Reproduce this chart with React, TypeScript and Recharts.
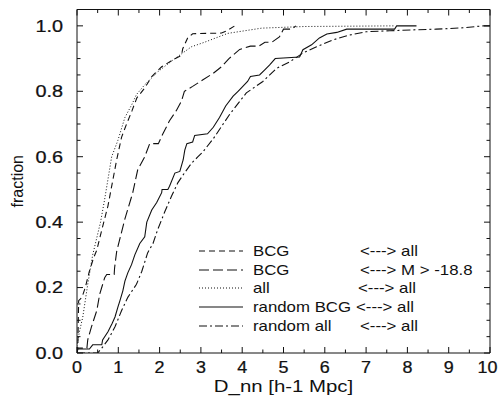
import React from 'react';
import { LineChart, Line, XAxis, YAxis, Legend, Label } from 'recharts';

// cumulative fraction vs nearest-neighbour distance D_nn [h-1 Mpc]
const bcgAll: [number, number][] = [
  [0, 0], [0.02, 0.02], [0.04, 0.16], [0.12, 0.17], [0.2, 0.2], [0.3, 0.25], [0.4, 0.29],
  [0.48, 0.315], [0.6, 0.376], [0.75, 0.45], [0.87, 0.53], [0.96, 0.59], [1.08, 0.66],
  [1.2, 0.7], [1.33, 0.74], [1.45, 0.78], [1.64, 0.81], [1.81, 0.845], [2.05, 0.875],
  [2.32, 0.896], [2.53, 0.91], [2.56, 0.93], [2.68, 0.963], [2.8, 0.976], [3.5, 0.978],
  [3.63, 0.985], [3.82, 1.0],
];

const bcgFaint: [number, number][] = [
  [0, 0], [0.02, 0.015], [0.24, 0.015], [0.26, 0.04], [0.35, 0.08], [0.48, 0.13],
  [0.55, 0.18], [0.67, 0.23], [0.72, 0.24], [0.9, 0.24], [0.91, 0.26], [0.96, 0.31],
  [1.16, 0.41], [1.35, 0.49], [1.47, 0.56], [1.64, 0.6], [1.76, 0.64], [1.97, 0.64],
  [2.08, 0.67], [2.24, 0.71], [2.4, 0.74], [2.53, 0.77], [2.6, 0.8], [2.8, 0.815],
  [3.05, 0.835], [3.3, 0.855], [3.5, 0.875], [3.68, 0.9], [3.94, 0.928], [4.2, 0.938],
  [4.4, 0.938], [4.55, 0.95], [4.72, 0.95], [4.9, 0.966], [5.0, 0.99], [5.2, 0.99],
  [5.3, 1.0],
];

const allAll: [number, number][] = [
  [0, 0.02], [0.05, 0.06], [0.14, 0.11], [0.26, 0.21], [0.38, 0.3], [0.57, 0.4],
  [0.67, 0.47], [0.84, 0.6], [0.99, 0.65], [1.16, 0.72], [1.33, 0.76], [1.44, 0.79],
  [1.64, 0.82], [1.96, 0.86], [2.37, 0.9], [2.77, 0.936], [3.09, 0.95], [3.65, 0.977],
  [4.47, 0.993], [5.5, 0.998], [7.7, 1.0],
];

const randomBcg: [number, number][] = [
  [0, 0], [0.02, 0.012], [0.3, 0.012], [0.38, 0.025], [0.6, 0.025], [0.62, 0.04],
  [0.75, 0.065], [0.85, 0.09], [0.92, 0.11], [0.99, 0.14], [1.04, 0.16], [1.11, 0.19],
  [1.16, 0.22], [1.23, 0.245], [1.32, 0.27], [1.4, 0.3], [1.52, 0.335], [1.64, 0.355],
  [1.69, 0.4], [1.81, 0.437], [1.93, 0.46], [2.05, 0.49], [2.06, 0.5], [2.2, 0.5],
  [2.24, 0.51], [2.37, 0.55], [2.49, 0.555], [2.57, 0.59], [2.61, 0.62], [2.66, 0.64],
  [2.8, 0.645], [2.85, 0.665], [3.16, 0.67], [3.3, 0.69], [3.45, 0.72], [3.6, 0.755],
  [3.78, 0.785], [3.9, 0.8], [4.13, 0.83], [4.2, 0.845], [4.42, 0.85], [4.54, 0.865],
  [4.66, 0.88], [4.8, 0.9], [5.39, 0.905], [5.47, 0.927], [5.68, 0.942], [5.87, 0.963],
  [6.05, 0.975], [6.29, 0.98], [6.53, 0.99], [7.69, 0.99], [7.74, 1.0], [8.22, 1.0],
];

const randomAll: [number, number][] = [
  [0, 0], [0.5, 0], [0.6, 0.015], [0.75, 0.04], [0.92, 0.08], [1.08, 0.13], [1.23, 0.17],
  [1.44, 0.21], [1.57, 0.25], [1.71, 0.306], [1.84, 0.335], [1.95, 0.376], [2.12, 0.43],
  [2.29, 0.48], [2.44, 0.52], [2.6, 0.55], [2.77, 0.58], [2.93, 0.6], [3.05, 0.615],
  [3.3, 0.655], [3.7, 0.73], [4.1, 0.795], [4.5, 0.83], [4.83, 0.87], [5.15, 0.89],
  [5.47, 0.917], [5.8, 0.936], [6.19, 0.957], [6.6, 0.972], [7.0, 0.982], [7.57, 0.985],
  [8.2, 0.988], [8.7, 0.99], [9.35, 0.994], [9.83, 1.0], [10, 1.0],
];

const xMajor = [0, 1, 2, 3, 4, 5, 6, 7, 8, 9, 10];
const xMinor = [0.5, 1.5, 2.5, 3.5, 4.5, 5.5, 6.5, 7.5, 8.5, 9.5];
const yMajor = [0, 0.2, 0.4, 0.6, 0.8, 1.0];
const yMinor = [0.05, 0.1, 0.15, 0.25, 0.3, 0.35, 0.45, 0.5, 0.55, 0.65, 0.7, 0.75, 0.85, 0.9, 0.95];

const legendNames = ['BCG', 'BCG', 'all', 'random BCG', 'random all'];
const legendPartners = ['<---> all', '<---> M > -18.8', '<---> all', '<---> all', '<---> all'];

const FONT = '"Liberation Sans", Arial, Helvetica, sans-serif';
const INK = '#111';

const series = [
  { key: 'bcgAll', pts: bcgAll, dash: '6 4' },
  { key: 'bcgFaint', pts: bcgFaint, dash: '10 4' },
  { key: 'allAll', pts: allAll, dash: '1 2' },
  { key: 'randomBcg', pts: randomBcg, dash: undefined },
  { key: 'randomAll', pts: randomAll, dash: '8 3 2 3' },
];

const xTicks = [...xMajor, ...xMinor].sort((a, b) => a - b);
const yTicks = [...yMajor, ...yMinor].sort((a, b) => a - b);
const isMajor = (list: number[], v: number) => list.some((m) => Math.abs(m - v) < 1e-9);

// ticks point into the frame, labels sit outside
const BottomTick = (props: any) => {
  const { x, y, payload } = props;
  const major = isMajor(xMajor, payload.value);
  // the last label would hang over the right edge, nudge it in a little
  const nudge = payload.value >= 10 ? -2.5 : 0;
  return (
    <g>
      <line x1={x} x2={x} y1={y} y2={y - (major ? 6 : 3.5)} stroke={INK} />
      {major && (
        <g transform={`translate(${x + nudge},${y + 20}) scale(1.12,1)`}>
          <text textAnchor="middle" fontSize={16} fontFamily={FONT} fill={INK} stroke={INK} strokeWidth={0.25}>
            {payload.value}
          </text>
        </g>
      )}
    </g>
  );
};

const TopTick = (props: any) => {
  const { x, y, payload } = props;
  const major = isMajor(xMajor, payload.value);
  return <line x1={x} x2={x} y1={y} y2={y + (major ? 6 : 3.5)} stroke={INK} />;
};

const LeftTick = (props: any) => {
  const { x, y, payload } = props;
  const major = isMajor(yMajor, payload.value);
  return (
    <g>
      <line x1={x} x2={x + (major ? 6 : 3.5)} y1={y} y2={y} stroke={INK} />
      {major && (
        <g transform={`translate(${x - 14},${y + 5.8}) scale(1.24,1)`}>
          <text textAnchor="end" fontSize={16} fontFamily={FONT} fill={INK} stroke={INK} strokeWidth={0.25}>
            {payload.value.toFixed(1)}
          </text>
        </g>
      )}
    </g>
  );
};

const RightTick = (props: any) => {
  const { x, y, payload } = props;
  const major = isMajor(yMajor, payload.value);
  return <line x1={x} x2={x - (major ? 6 : 3.5)} y1={y} y2={y} stroke={INK} />;
};

const XTitle = (props: any) => {
  const { x, y, width } = props.viewBox;
  return (
    <g transform={`translate(${x + width / 2},${y + 39}) scale(1.2,1)`}>
      <text textAnchor="middle" fontSize={17} fontFamily={FONT} fill={INK}>
        D_nn [h-1 Mpc]
      </text>
    </g>
  );
};

const YTitle = (props: any) => {
  const { x, y, height } = props.viewBox;
  return (
    <text
      transform={`translate(${x + 23},${y + height / 2}) rotate(-90)`}
      textAnchor="middle"
      fontSize={16}
      fontFamily={FONT}
      fill={INK}
    >
      fraction
    </text>
  );
};

const partnerLeft = [161, 161, 159, 157, 161];

const LegendBox = () => (
  <div style={{ position: 'relative', width: 300, height: 100, fontFamily: FONT, fontSize: 15, color: INK }}>
    {series.map((s, i) => (
      <div key={s.key} style={{ position: 'absolute', left: 0, top: i * 18.7, height: 18, width: 300 }}>
        <svg width={44} height={18} style={{ position: 'absolute', left: 0, top: 0 }}>
          <line x1={0} x2={44} y1={9} y2={9} stroke={INK} strokeWidth={1.1} strokeDasharray={s.dash} />
        </svg>
        <span style={{ position: 'absolute', left: 54, top: 0, lineHeight: '18px', whiteSpace: 'nowrap', transform: 'scaleX(1.12)', transformOrigin: 'left center' }}>
          {legendNames[i]}
        </span>
        <span style={{ position: 'absolute', left: partnerLeft[i], top: 0, lineHeight: '18px', whiteSpace: 'nowrap', transform: 'scaleX(1.12)', transformOrigin: 'left center' }}>
          {legendPartners[i]}
        </span>
      </div>
    ))}
  </div>
);

export default function App() {
  return (
    <div style={{ width: 499, height: 401, background: '#fff' }}>
      <style>{'body{margin:0;background:#fff}'}</style>
      <LineChart width={499} height={401} margin={{ top: 8.5, right: 8, bottom: 0, left: 0 }}>
        <XAxis
          xAxisId="b"
          type="number"
          dataKey="x"
          domain={[0, 10]}
          allowDataOverflow
          ticks={xTicks}
          interval={0}
          height={48}
          tickSize={0}
          tickMargin={0}
          tickLine={false}
          axisLine={{ stroke: INK }}
          tick={BottomTick}
        >
          <Label content={XTitle} />
        </XAxis>
        <XAxis
          xAxisId="t"
          orientation="top"
          type="number"
          dataKey="x"
          domain={[0, 10]}
          allowDataOverflow
          ticks={xTicks}
          interval={0}
          height={1}
          tickSize={0}
          tickMargin={0}
          tickLine={false}
          axisLine={{ stroke: INK }}
          tick={TopTick}
        />
        <YAxis
          yAxisId="l"
          type="number"
          domain={[0, 1.05]}
          allowDataOverflow
          ticks={yTicks}
          interval={0}
          width={77}
          tickSize={0}
          tickMargin={0}
          tickLine={false}
          axisLine={{ stroke: INK }}
          tick={LeftTick}
        >
          <Label content={YTitle} />
        </YAxis>
        <YAxis
          yAxisId="r"
          orientation="right"
          type="number"
          domain={[0, 1.05]}
          allowDataOverflow
          ticks={yTicks}
          interval={0}
          width={1}
          tickSize={0}
          tickMargin={0}
          tickLine={false}
          axisLine={{ stroke: INK }}
          tick={RightTick}
        />
        <Legend
          layout="horizontal"
          verticalAlign="middle"
          align="center"
          content={LegendBox}
          wrapperStyle={{ left: 199, top: 242, width: 300, height: 100 }}
        />
        {series.map((s) => (
          <Line
            key={s.key}
            xAxisId="b"
            yAxisId="l"
            data={s.pts.map(([x, y]) => ({ x, y }))}
            dataKey="y"
            type="linear"
            stroke={INK}
            strokeWidth={s.dash === '1 2' ? 1 : 1.1}
            strokeDasharray={s.dash}
            dot={false}
            activeDot={false}
            isAnimationActive={false}
          />
        ))}
      </LineChart>
    </div>
  );
}
